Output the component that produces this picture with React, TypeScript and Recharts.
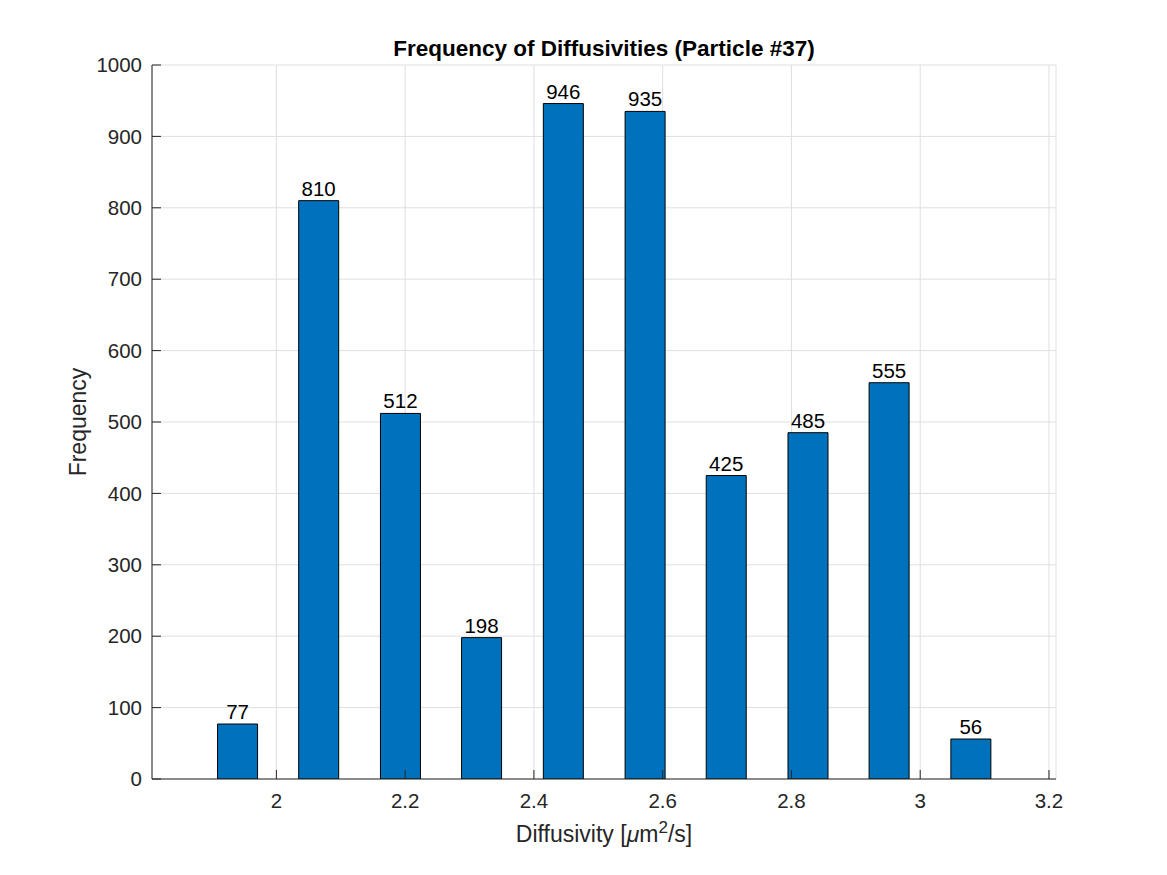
import { BarChart, Bar, XAxis, YAxis, CartesianGrid, LabelList, Label } from 'recharts';

// histogram bin centres and counts
const binCenters = [1.939, 2.065, 2.192, 2.318, 2.445, 2.572, 2.698, 2.825, 2.951, 3.078];
const counts = [77, 810, 512, 198, 946, 935, 425, 485, 555, 56];

const xTicks = [2, 2.2, 2.4, 2.6, 2.8, 3, 3.2];
const yTicks = [0, 100, 200, 300, 400, 500, 600, 700, 800, 900, 1000];
const xDomain = [1.8068, 3.2109];
const yDomain = [0, 1000];

const title = 'Frequency of Diffusivities (Particle #37)';

const data = binCenters.map((x, i) => ({ x, count: counts[i] }));

const FONT = '"Liberation Sans", Arial, Helvetica, sans-serif';
const INK = '#262626';
const TICK_LEN = 9;
const X_GAP = 14;
const Y_GAP = 10;
const TICK_FONT = 20.5;
const LABEL_FONT = 23;

function BottomTick({ x, y, payload }: any) {
  const axisY = y - X_GAP;
  return (
    <g>
      <line x1={x} x2={x} y1={axisY} y2={axisY - TICK_LEN} stroke={INK} />
      <text x={x} y={y} dy="0.72em" textAnchor="middle" fill={INK} fontSize={TICK_FONT} fontFamily={FONT}>
        {payload.value}
      </text>
    </g>
  );
}

function TopTick({ x, y }: any) {
  return <line x1={x} x2={x} y1={y} y2={y + TICK_LEN} stroke={INK} />;
}

function LeftTick({ x, y, payload }: any) {
  const axisX = x + Y_GAP;
  return (
    <g>
      <line x1={axisX} x2={axisX + TICK_LEN} y1={y} y2={y} stroke={INK} />
      <text x={x} y={y} dy="0.355em" textAnchor="end" fill={INK} fontSize={TICK_FONT} fontFamily={FONT}>
        {payload.value}
      </text>
    </g>
  );
}

function RightTick({ x, y }: any) {
  return <line x1={x} x2={x - TICK_LEN} y1={y} y2={y} stroke={INK} />;
}

const renderXLabel = (props: any) => {
  const { x, y, width } = props.viewBox;
  return (
    <text x={x + width / 2} y={y + 63} textAnchor="middle" fill={INK} fontSize={LABEL_FONT} fontFamily={FONT}>
      Diffusivity [<tspan fontStyle="italic">μ</tspan>m
      <tspan dy={-9} fontSize={17}>2</tspan>
      <tspan dy={9}>/s]</tspan>
    </text>
  );
};

const renderYLabel = (props: any) => {
  const { x, y, height } = props.viewBox;
  const cx = x + 14;
  const cy = y + height / 2;
  return (
    <text x={cx} y={cy} transform={`rotate(-90 ${cx} ${cy})`} textAnchor="middle" fill={INK} fontSize={LABEL_FONT} fontFamily={FONT}>
      Frequency
    </text>
  );
};

export default function App() {
  return (
    <div style={{ position: 'absolute', left: 0, top: 0, width: 1167, height: 875, background: '#fff' }}>
      <div
        style={{
          position: 'absolute',
          left: 152,
          top: 38,
          width: 904,
          textAlign: 'center',
          fontFamily: FONT,
          fontSize: 22.5,
          lineHeight: '22px',
          fontWeight: 'bold',
          color: '#000',
          whiteSpace: 'nowrap',
        }}
      >
        {title}
      </div>
      <BarChart width={1167} height={875} data={data} margin={{ top: 65, right: 111, bottom: 36, left: 72 }}>
        <CartesianGrid stroke="#dfdfdf" />
        <XAxis
          dataKey="x"
          type="number"
          domain={xDomain}
          allowDataOverflow
          ticks={xTicks}
          interval={0}
          height={60}
          tickSize={0}
          tickMargin={X_GAP}
          tickLine={false}
          tick={<BottomTick />}
          axisLine={{ stroke: INK }}
        >
          <Label content={renderXLabel} />
        </XAxis>
        <XAxis
          xAxisId="top"
          orientation="top"
          dataKey="x"
          type="number"
          domain={xDomain}
          allowDataOverflow
          ticks={xTicks}
          interval={0}
          height={0}
          tickSize={0}
          tickMargin={0}
          tickLine={false}
          tick={<TopTick />}
          axisLine={{ stroke: INK }}
        />
        <YAxis
          type="number"
          domain={yDomain}
          allowDataOverflow
          ticks={yTicks}
          interval={0}
          width={80}
          tickSize={0}
          tickMargin={Y_GAP}
          tickLine={false}
          tick={<LeftTick />}
          axisLine={{ stroke: INK }}
        >
          <Label content={renderYLabel} />
        </YAxis>
        <YAxis
          yAxisId="right"
          orientation="right"
          type="number"
          domain={yDomain}
          allowDataOverflow
          ticks={yTicks}
          interval={0}
          width={0}
          tickSize={0}
          tickMargin={0}
          tickLine={false}
          tick={<RightTick />}
          axisLine={{ stroke: INK }}
        />
        <Bar dataKey="count" fill="#0072BD" stroke="#000" strokeWidth={1} barSize={40} isAnimationActive={false}>
          <LabelList dataKey="count" position="top" offset={5} fill="#000" fontSize={TICK_FONT} fontFamily={FONT} />
        </Bar>
      </BarChart>
    </div>
  );
}
